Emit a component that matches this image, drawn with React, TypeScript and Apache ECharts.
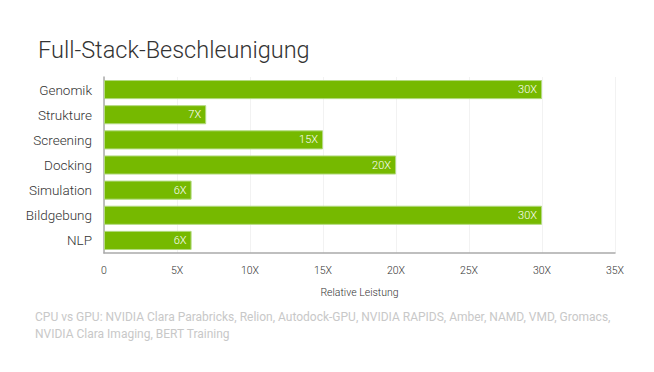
import React, { useEffect, useRef } from "react";
import * as echarts from "echarts";

const categories = ["Genomik", "Strukture", "Screening", "Docking", "Simulation", "Bildgebung", "NLP"];
const speedups = [30, 7, 15, 20, 6, 30, 6];
const titleText = "Full-Stack-Beschleunigung";
const axisName = "Relative Leistung";
const footnoteLines = [
  "CPU vs GPU: NVIDIA Clara Parabricks, Relion, Autodock-GPU, NVIDIA RAPIDS, Amber, NAMD, VMD, Gromacs,",
  "NVIDIA Clara Imaging, BERT Training",
];

const FONT = "Roboto, 'Noto Sans', sans-serif";

export default function App() {
  const ref = useRef<HTMLDivElement>(null);
  useEffect(() => {
    document.body.style.margin = "0";
    const chart = echarts.init(ref.current!, null, { renderer: "svg" });
    chart.setOption({
      animation: false,
      backgroundColor: "#fff",
      textStyle: { fontFamily: FONT },
      title: {
        text: titleText,
        left: 33,
        top: 33,
        textStyle: { fontFamily: FONT, fontSize: 23.5, fontWeight: 300, color: "#333" },
      },
      grid: { left: 104, right: 39, top: 77, bottom: 119 },
      xAxis: {
        type: "value",
        min: 0,
        max: 35,
        interval: 5,
        axisLine: { show: true, lineStyle: { color: "#aaa", width: 1.5 } },
        axisTick: { show: false },
        splitLine: { show: true, lineStyle: { color: "#f2f2f2" } },
        axisLabel: {
          color: "#333",
          fontSize: 10.5,
          fontWeight: 300,
          margin: 12,
          formatter: (v: number) => (v === 0 ? "0" : v + "X"),
        },
        name: axisName,
        nameLocation: "middle",
        nameGap: 34,
        nameTextStyle: { color: "#333", fontSize: 10.5, fontWeight: 300 },
      },
      yAxis: {
        type: "category",
        inverse: true,
        data: categories,
        axisLine: { show: true, lineStyle: { color: "#aaa", width: 1.5 } },
        axisTick: { show: false },
        axisLabel: { color: "#333", fontSize: 13.5, fontWeight: 300, margin: 12 },
      },
      series: [
        {
          type: "bar",
          data: speedups,
          barCategoryGap: "24%",
          itemStyle: { color: "#76b900", borderColor: "#b3da80", borderWidth: 1 },
          label: {
            show: true,
            position: "insideRight",
            distance: 5,
            color: "#fff",
            fontSize: 11,
            fontWeight: 300,
            formatter: "{c}X",
          },
        },
      ],
      graphic: footnoteLines.map((t, i) => ({
        type: "text",
        left: 35,
        top: 311 + i * 17,
        style: { text: t, fill: "#c8c8c8", fontSize: 12, fontFamily: FONT },
      })),
    });
    return () => chart.dispose();
  }, []);
  return <div ref={ref} style={{ width: 654, height: 372 }} />;
}
